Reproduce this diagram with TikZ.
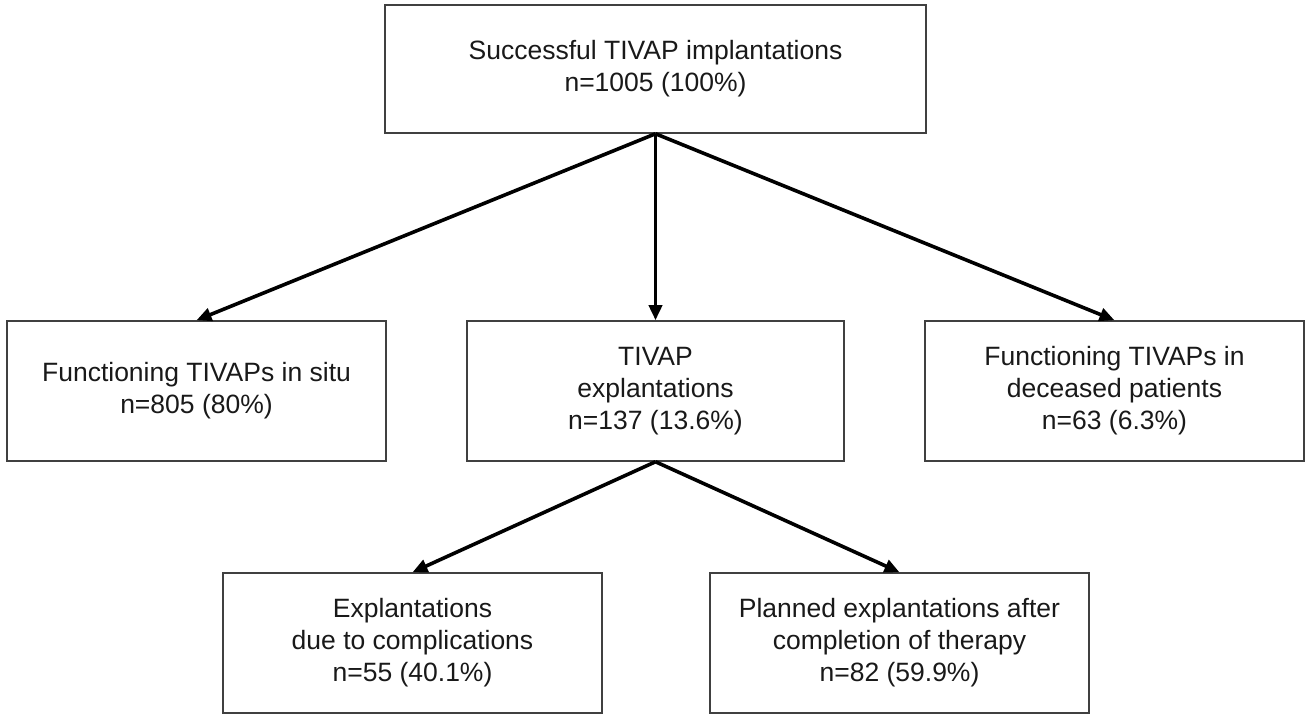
\documentclass[tikz,border=0pt]{standalone}
\usepackage{fontspec}
\setmainfont{Liberation Sans}
\usetikzlibrary{arrows.meta}
\tikzset{
  box/.style={draw=black!75, line width=1.5pt, fill=white, inner sep=0pt, align=center,
    font=\fontsize{26.5}{32}\selectfont, text=black!90},
  conn/.style={line width=3.6pt, -{Triangle[length=15pt,width=13pt]}}
}
\begin{document}
\begin{tikzpicture}[x=1pt,y=-1pt]
\useasboundingbox (0,0) rectangle (1307,719);
\node[box, minimum width=541pt, minimum height=128pt] (top) at (655.5,69) {Successful TIVAP implantations\\n=1005 (100\%)};
\node[box, minimum width=379pt, minimum height=140pt] (fl) at (196.5,391) {Functioning TIVAPs in situ\\n=805 (80\%)};
\node[box, minimum width=377pt, minimum height=140pt] (fm) at (655.5,391) {TIVAP\\explantations\\n=137 (13.6\%)};
\node[box, minimum width=379pt, minimum height=140pt] (fr) at (1114.5,391) {Functioning TIVAPs in\\deceased patients\\n=63 (6.3\%)};
\node[box, minimum width=379pt, minimum height=140pt] (bl) at (412.5,643) {Explantations\\due to complications\\n=55 (40.1\%)};
\node[box, minimum width=379pt, minimum height=140pt] (br) at (899.5,643) {Planned explantations after\\completion of therapy\\n=82 (59.9\%)};
\draw[conn] (top.south) -- (fl.north);
\draw[conn] (top.south) -- (fm.north);
\draw[conn] (top.south) -- (fr.north);
\draw[conn] (fm.south) -- (bl.north);
\draw[conn] (fm.south) -- (br.north);
\end{tikzpicture}
\end{document}
